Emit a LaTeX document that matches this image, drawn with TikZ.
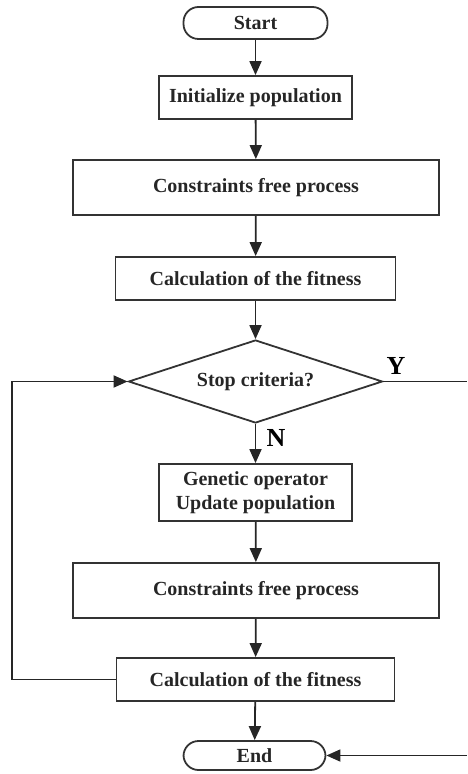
\documentclass[tikz,border=0pt]{standalone}
\usepackage{fontspec}
\setmainfont{Liberation Serif}
\usetikzlibrary{arrows, arrows.meta}
\usetikzlibrary{shapes.geometric}

\begin{document}
\begin{tikzpicture}[x=0.5pt, y=-0.5pt,
    every node/.style={font=\bfseries\fontsize{10}{12}\selectfont, text=black!85},
    proc/.style={draw=black!80, line width=0.9pt, rectangle, inner sep=0pt, align=center},
    term/.style={draw=black!80, line width=0.9pt, rectangle, rounded corners=7.5pt, inner sep=0pt},
    decision/.style={draw=black!80, line width=0.9pt, diamond, aspect=3.06, inner sep=0pt, minimum width=127pt, minimum height=41.5pt},
    flow/.style={draw=black!85, line width=0.9pt, -{Triangle[length=7pt, width=6pt]}},
    yn/.style={font=\bfseries\fontsize{13}{15}\selectfont, text=black}]
    \useasboundingbox (0,0) rectangle (467,774);

    \node[term, minimum width=72pt, minimum height=16pt] (start) at (255.5,23) {Start};
    \node[proc, minimum width=96.5pt, minimum height=21.5pt] (init) at (255.5,97.5) {Initialize population};
    \node[proc, minimum width=183pt, minimum height=27.5pt] (free1) at (256,187.5) {Constraints free process};
    \node[proc, minimum width=140pt, minimum height=21.5pt] (fit1) at (255.5,278.5) {Calculation of the fitness};
    \node[decision] (stop) at (255.5,381.5) {Stop criteria?};
    \node[proc, minimum width=96.5pt, minimum height=28.5pt] (gen) at (255.5,492.5) {Genetic operator\\Update population};
    \node[proc, minimum width=183pt, minimum height=27.5pt] (free2) at (256,590.5) {Constraints free process};
    \node[proc, minimum width=139pt, minimum height=21.5pt] (fit2) at (255.5,679.5) {Calculation of the fitness};
    \node[term, minimum width=71pt, minimum height=14.5pt] (end) at (254.5,755.5) {End};

    \node[yn] (ylab) at (396,366) {Y};
    \node[yn] (nlab) at (276,438) {N};

    \coordinate (loopb) at (12,679.5);
    \coordinate (loopt) at (12,381.5);
    \coordinate (yout) at (467,381.5);
    \coordinate (ein) at (467,755.5);

    \draw[flow] (start) -- (init);
    \draw[flow] (init) -- (free1);
    \draw[flow] (free1) -- (fit1);
    \draw[flow] (fit1) -- (stop);
    \draw[flow] (stop) -- (gen);
    \draw[flow] (gen) -- (free2);
    \draw[flow] (free2) -- (fit2);
    \draw[flow] (fit2) -- (end);
    \draw[flow] (fit2.west) -- (loopb) -- (loopt) -- (stop.west);
    \draw[draw=black!85, line width=0.9pt] (stop.east) -- (yout);
    \draw[flow] (ein) -- (end.east);
  \end{tikzpicture}
\end{document}
